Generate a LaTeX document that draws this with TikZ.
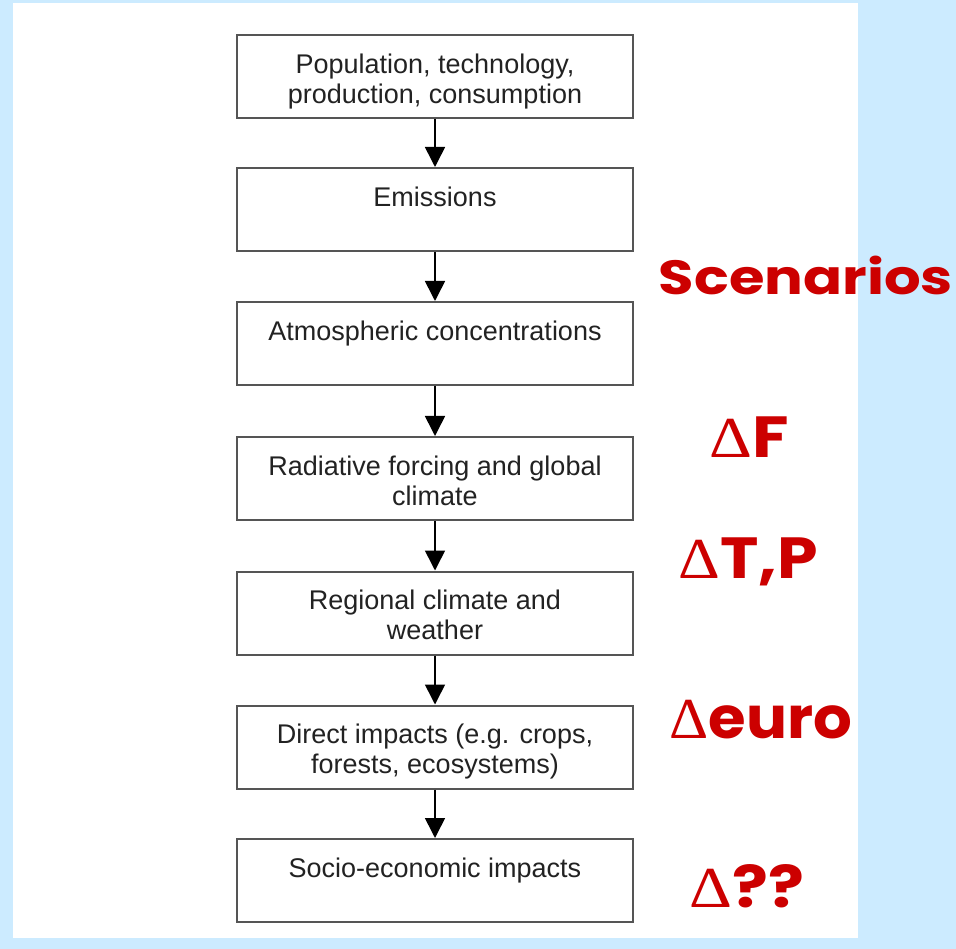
\documentclass[tikz,border=0pt]{standalone}
\usepackage{fontspec}
\setmainfont{Liberation Sans}
\newfontfamily\redfont{Poppins}
\newfontfamily\deltafont{Liberation Serif}
\usetikzlibrary{positioning,calc,arrows.meta}
\definecolor{bgblue}{RGB}{204,235,255}
\definecolor{redtxt}{RGB}{204,0,0}
\definecolor{boxline}{RGB}{85,85,85}
\definecolor{boxtxt}{RGB}{34,34,34}
\tikzset{
  box/.style={draw=boxline,line width=2pt,minimum width=396pt,minimum height=83pt,inner sep=0pt},
  boxtext/.style={anchor=north,yshift=-16pt,align=center,text=boxtxt,font=\fontsize{27}{30}\selectfont},
  flow/.style={-{Triangle[width=20pt,length=20pt]},line width=1.6pt},
  tag/.style={text=redtxt,font=\redfont\bfseries\fontsize{58}{58}\selectfont,inner sep=0pt}
}
\newcommand{\dlt}{{\deltafont\mdseries\char"0394}}
\newcommand{\wide}[2]{\scalebox{#1}[1]{#2}}
\begin{document}
\begin{tikzpicture}[x=1pt,y=-1pt]
		\fill[bgblue] (0,0) rectangle (956,949);
		\fill[white] (13,3) rectangle (858,938);
		\useasboundingbox (0,0) rectangle (956,949);
		\node[box,label={[boxtext]north:Population, technology,\\production, consumption}] (pop) at (435,76.5) {};
		\node[box,label={[boxtext]north:Emissions}] (emis) at (435,209.5) {};
		\node[box,label={[boxtext]north:Atmospheric concentrations}] (atm) at (435,343.5) {};
		\node[box,label={[boxtext]north:Radiative forcing and global\\climate}] (rad) at (435,478.5) {};
		\node[box,label={[boxtext]north:Regional climate and\\weather}] (reg) at (435,613) {};
		\node[box,label={[boxtext]north:Direct impacts (e.g. crops,\\forests, ecosystems)}] (dir) at (435,747) {};
		\node[box,label={[boxtext]north:Socio-economic impacts}] (soc) at (435,880.5) {};
		\draw[flow] (pop) -- (emis);
		\draw[flow] (emis) -- (atm);
		\draw[flow] (atm) -- (rad);
		\draw[flow] (rad) -- (reg);
		\draw[flow] (reg) -- (dir);
		\draw[flow] (dir) -- (soc);
		\node[tag,font=\redfont\bfseries\fontsize{48}{48}\selectfont] (scen) at (806,275) {\wide{1.2}{Scenarios}};
		\node[tag] (df) at (749,437) {\wide{1.15}{\dlt F}};
		\node[tag] (dtp) at (748,562) {\wide{1.12}{\dlt T,P}};
		\node[tag] (deur) at (761,720) {\wide{1.05}{\dlt euro}};
		\node[tag] (dq) at (747,886) {\wide{1.15}{\dlt ??}};
	\end{tikzpicture}
\end{document}
